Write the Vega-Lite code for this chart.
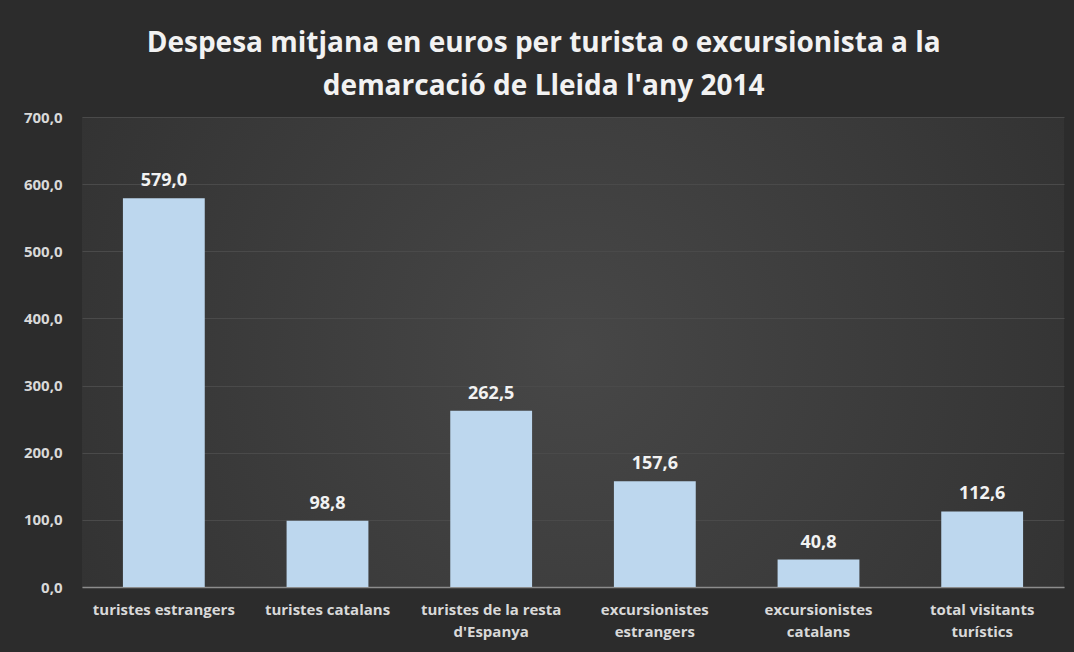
{
  "$schema": "https://vega.github.io/schema/vega-lite/v6.json",
  "width": 982,
  "height": 470,
  "autosize": {"type": "none"},
  "padding": {"left": 82, "top": 117, "right": 10, "bottom": 65},
  "background": "#2c2c2c",
  "title": {
    "text": ["Despesa mitjana en euros per turista o excursionista a la", "demarcació de Lleida l'any 2014"],
    "font": "Open Sans",
    "fontSize": 28,
    "fontWeight": "bold",
    "color": "#f2f2f2",
    "lineHeight": 43,
    "offset": 9,
    "anchor": "middle",
    "frame": "bounds"
  },
  "config": {
    "locale": {"number": {"decimal": ",", "thousands": ".", "grouping": [3], "currency": ["", " €"]}},
    "view": {"stroke": null, "fill": {"gradient": "radial", "x1": 0.5, "y1": 0.5, "r1": 0, "x2": 0.5, "y2": 0.5, "r2": 0.75, "stops": [{"offset": 0, "color": "#474747"}, {"offset": 1, "color": "#2c2c2c"}]}},
    "font": "Open Sans"
  },
  "data": {
    "values": [
      {"categoria": "turistes estrangers", "despesa": 579.0},
      {"categoria": "turistes catalans", "despesa": 98.8},
      {"categoria": "turistes de la resta|d'Espanya", "despesa": 262.5},
      {"categoria": "excursionistes|estrangers", "despesa": 157.6},
      {"categoria": "excursionistes|catalans", "despesa": 40.8},
      {"categoria": "total visitants|turístics", "despesa": 112.6}
    ]
  },
  "encoding": {
    "x": {
      "field": "categoria",
      "type": "nominal",
      "sort": null,
      "scale": {"paddingInner": 0.5, "paddingOuter": 0.25},
      "axis": {
        "title": null,
        "labelAngle": 0,
        "labelExpr": "split(datum.label, '|')",
        "labelFont": "Open Sans",
        "labelFontSize": 15,
        "labelFontWeight": "bold",
        "labelColor": "#d9d9d9",
        "labelPadding": 15,
        "labelLineHeight": 22,
        "labelLimit": 200,
        "ticks": false,
        "domainColor": "#8c8c8c",
        "domainWidth": 1.5,
        "grid": false
      }
    },
    "y": {
      "field": "despesa",
      "type": "quantitative",
      "scale": {"domain": [0, 700]},
      "axis": {
        "title": null,
        "values": [0, 100, 200, 300, 400, 500, 600, 700],
        "format": ".1f",
        "labelFont": "Open Sans",
        "labelFontSize": 15,
        "labelFontWeight": "bold",
        "labelColor": "#d9d9d9",
        "labelPadding": 20,
        "ticks": false,
        "domain": false,
        "grid": true,
        "gridColor": "#4a4a4a",
        "gridWidth": 1
      }
    }
  },
  "layer": [
    {"mark": {"type": "bar", "color": "#bdd7ee"}},
    {
      "mark": {"type": "text", "dy": -8, "baseline": "bottom", "font": "Open Sans", "fontSize": 18, "fontWeight": "bold", "color": "#f2f2f2"},
      "encoding": {"text": {"field": "despesa", "type": "quantitative", "format": ".1f"}}
    }
  ]
}
